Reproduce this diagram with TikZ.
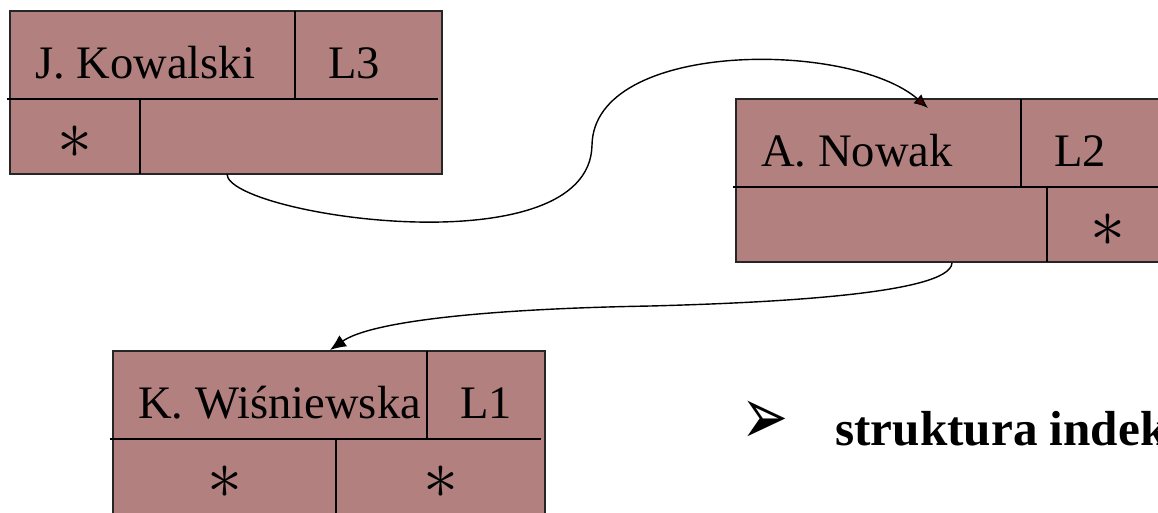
\documentclass[tikz,border=0pt]{standalone}
\usepackage{fontspec}
\setmainfont{Liberation Serif}
\newfontfamily\symfont{DejaVu Sans}
\usetikzlibrary{arrows.meta}
\definecolor{rekord}{RGB}{178,128,126}
\definecolor{grot}{RGB}{70,0,0}

\NewDocumentCommand{\rekord}{mmmmmmmO{}O{}}{%
\begin{scope}[shift={(#2,#3)}]%
\filldraw[pole] (0,0) rectangle (432,163);
\draw[kreska] (-3,88) -- (428,88);
\draw[kreska] (#4,0) -- (#4,88);
\draw[kreska] (#5,88) -- (#5,163);
\node[napis,anchor=base west] (#1n) at (25,67) {#6};
\node[napis,anchor=base west] (#1l) at (#4+33,67) {#7};
\node[gwiazdka] (#1a) at (#5/2,131) {#8};
\node[gwiazdka] (#1b) at ({(#5+432)/2},131) {#9};
\end{scope}%
}
\newcommand{\gw}{\scalebox{1.6}{$\ast$}}

\begin{document}
\begin{tikzpicture}[x=0.02cm,y=-0.02cm,
        pole/.style={fill=rekord,draw=black!85,line width=1.2pt},
        kreska/.style={line width=0.9pt},
        napis/.style={font=\fontsize{26.5}{30}\selectfont,inner sep=0pt},
        gwiazdka/.style={font=\fontsize{30}{30}\selectfont,inner sep=0pt},
        link/.style={line width=0.8pt,-{Latex[length=3.2mm,width=2.7mm]}}]
        \useasboundingbox (0,0) rectangle (1158,512);
        \clip (0,0) rectangle (1158,512);

        % Rekord 1
        \rekord{k}{10}{11}{285}{130}{J. Kowalski}{L3}[\gw]
        % Rekord 2
        \rekord{n}{736}{99}{285}{311}{A. Nowak}{L2}[][\gw]
        % Rekord 3
        \rekord{w}{113}{351}{314}{223}{K. Wiśniewska}{L1}[\gw][\gw]

        % Wskazania
        \coordinate (kout) at (227,174);
        \coordinate (nin) at (928,108);
        \coordinate (nout) at (952,263);
        \coordinate (win) at (330,350);
        \draw[link,-{Latex[length=2.8mm,width=2.4mm,fill=grot]}] (kout) .. controls (227,215) and (590,270) .. (592,145)
            .. controls (594,40) and (850,40) .. (nin);
        \draw[link] (nout) .. controls (950,295) and (760,303) .. (650,306)
            .. controls (480,309) and (370,322) .. (win);

        % Opis
        \node[anchor=base west,inner sep=0pt,font=\fontsize{32}{36}\symfont] (grot) at (741,444) {\scalebox{1}[1.45]{➢}};
        \node[napis,font=\fontsize{28}{32}\selectfont\bfseries,anchor=base west] (opis) at (835,445) {struktura indeksowa};
    \end{tikzpicture}
\end{document}
